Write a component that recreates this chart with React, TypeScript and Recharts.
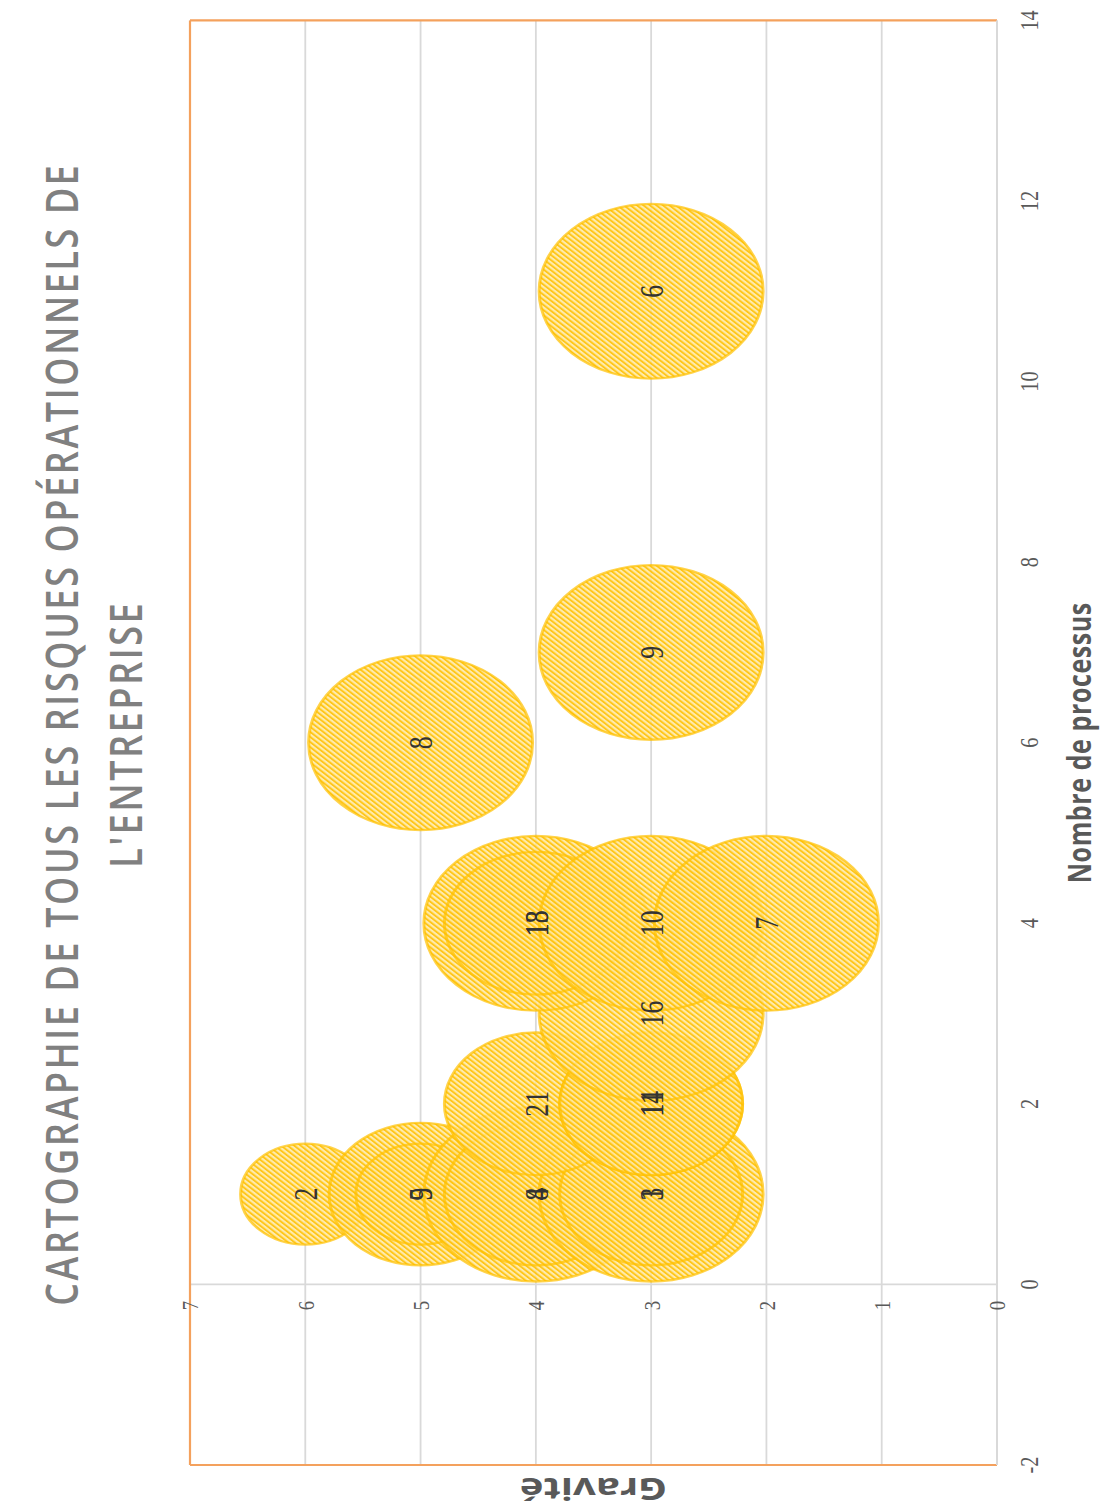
import React from 'react';
import {
  ScatterChart,
  Scatter,
  XAxis,
  YAxis,
  ZAxis,
  CartesianGrid,
  ReferenceLine,
  LabelList,
} from 'recharts';

// ---- data ----
const processus = [1, 1, 1, 1, 1, 1, 1, 2, 2, 2, 3, 4, 4, 4, 4, 6, 7, 11];
const gravite = [6, 5, 5, 4, 4, 3, 3, 4, 3, 3, 3, 4, 4, 3, 2, 5, 3, 3];
const criticite = [1, 2, 1, 3, 2, 3, 2, 2, 2, 2, 3, 3, 2, 3, 3, 3, 3, 3];
const risques = ['2', '5', '9', '4', '8', '1', '3', '21', '11', '14', '16', '13', '18', '10', '7', '8', '9', '6'];

const xTicks = [-2, 0, 2, 4, 6, 8, 10, 12, 14];
const yTicks = [0, 1, 2, 3, 4, 5, 6, 7];
const titleLines = ['CARTOGRAPHIE DE TOUS LES RISQUES OPÉRATIONNELS DE', "L'ENTREPRISE"];
const xLabel = 'Nombre de processus';
const yLabel = 'Gravité';

const data = processus.map((x, i) => ({ x, y: gravite[i], z: criticite[i], label: risques[i] }));

// ---- layout ----
const K = 0.78; // horizontal squeeze of the original picture
const PAGE_W = 1102;
const PAGE_H = 1511;
const W = Math.round(PAGE_H / K);
const H = PAGE_W;
const Y_AXIS_W = 1;
const M = { top: 190, right: 26, left: 58, bottom: 0 };
const X_AXIS_H = 105;
const X_MIN = -2;
const X_MAX = 14;
const plotLeft = M.left + Y_AXIS_W;
const plotRight = W - M.right;
const plotTop = M.top;
const plotBottom = H - M.bottom - X_AXIS_H;
const plotCx = (plotLeft + plotRight) / 2;
const x0 = plotLeft + ((0 - X_MIN) / (X_MAX - X_MIN)) * (plotRight - plotLeft);
const R_MAX = 112;

const SERIF = "'Liberation Serif', 'DejaVu Serif', serif";
const SANS = "'Open Sans', 'Noto Sans', sans-serif";

const YTick = (props: any) => {
  const { y, payload } = props;
  return (
    <text x={x0 - 21} y={y} dy="0.35em" textAnchor="end" fontSize={24} fill="#595959" fontFamily={SERIF}>
      {payload.value}
    </text>
  );
};

const XTick = (props: any) => {
  const { x, payload } = props;
  return (
    <text x={x} y={plotBottom + 32} dy="0.35em" textAnchor="middle" fontSize={26} fill="#595959" fontFamily={SERIF}>
      {payload.value}
    </text>
  );
};

const Bubble = (props: any) => {
  const { cx, cy, width } = props;
  const r = width / 2;
  return (
    <circle cx={cx} cy={cy} r={r} fill="url(#hatch)" stroke="#FFC000" strokeOpacity={0.7} strokeWidth={3} />
  );
};

export default function App() {
  const midY = (plotTop + plotBottom) / 2;
  return (
    <div style={{ position: 'absolute', left: 0, top: 0, width: PAGE_W, height: PAGE_H, overflow: 'hidden', background: '#fff' }}>
      <svg width={0} height={0} style={{ position: 'absolute' }}>
        <defs>
          <pattern id="hatch" patternUnits="userSpaceOnUse" width={4.6} height={4.6} patternTransform="rotate(45)">
            <rect width={4.6} height={4.6} fill="#FFE699" fillOpacity={0.8} />
            <rect width={2.2} height={4.6} fill="#FFC000" fillOpacity={0.85} />
          </pattern>
        </defs>
      </svg>
      <div
        style={{
          position: 'absolute',
          left: 0,
          top: 0,
          width: W,
          height: H,
          transformOrigin: '0 0',
          transform: `translate(0px, ${PAGE_H}px) rotate(-90deg) scale(${K}, 1)`,
        }}
      >
        <ScatterChart width={W} height={H} margin={M}>
          <CartesianGrid vertical={false} stroke="#d9d9d9" strokeWidth={1.8} />
          <XAxis
            type="number"
            dataKey="x"
            domain={[X_MIN, X_MAX]}
            ticks={xTicks}
            interval={0}
            height={X_AXIS_H}
            axisLine={{ stroke: '#d9d9d9', strokeWidth: 2 }}
            tickLine={false}
            tick={<XTick />}
          />
          <YAxis
            type="number"
            dataKey="y"
            domain={[0, 7]}
            ticks={yTicks}
            interval={0}
            width={Y_AXIS_W}
            axisLine={false}
            tickLine={false}
            tick={<YTick />}
          />
          <ZAxis type="number" dataKey="z" domain={[0, 3]} range={[0, Math.PI * R_MAX * R_MAX]} />
          <ReferenceLine x={0} stroke="#d9d9d9" strokeWidth={2.2} />
          <ReferenceLine y={7} stroke="#F4A15D" strokeWidth={2.2} />
          <ReferenceLine x={X_MIN} stroke="#F4A15D" strokeWidth={2.8} />
          <ReferenceLine x={X_MAX} stroke="#F4A15D" strokeWidth={2.8} />
          <Scatter data={data} shape={<Bubble />} isAnimationActive={false}>
            <LabelList dataKey="label" position="center" fill="#333333" fontSize={33} fontFamily={SERIF} />
          </Scatter>
        </ScatterChart>
        <svg width={W} height={H} style={{ position: 'absolute', left: 0, top: 0, pointerEvents: 'none' }}>
          <text x={996} y={78} textAnchor="middle" fontSize={46} fontWeight={600} letterSpacing={3.4} fill="#808080" fontFamily={SANS}>
            {titleLines[0]}
          </text>
          <text x={996} y={142} textAnchor="middle" fontSize={46} fontWeight={600} letterSpacing={3.4} fill="#808080" fontFamily={SANS}>
            {titleLines[1]}
          </text>
          <text x={plotCx} y={1091} textAnchor="middle" fontSize={32} fontWeight={700} letterSpacing={0.8} fill="#595959" fontFamily={SANS}>
            {xLabel}
          </text>
          <text
            x={42}
            y={midY}
            textAnchor="middle"
            fontSize={40}
            fontWeight={700}
            fill="#595959"
            fontFamily={SANS}
            transform={`rotate(-90, 42, ${midY})`}
          >
            {yLabel}
          </text>
        </svg>
      </div>
    </div>
  );
}
